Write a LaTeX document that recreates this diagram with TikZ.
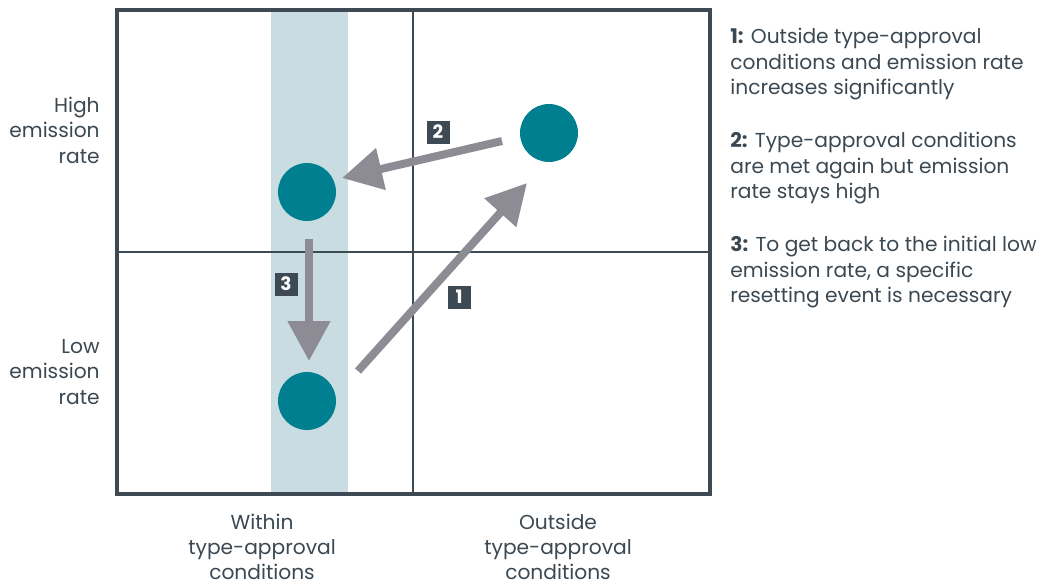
\documentclass[tikz,border=0pt]{standalone}
\usepackage{fontspec}
\setmainfont{Poppins}
\usetikzlibrary{arrows.meta, positioning}
\definecolor{framecol}{HTML}{3D4A54}
\definecolor{textcol}{HTML}{3B4852}
\definecolor{bandcol}{HTML}{C8DCE2}
\definecolor{statecol}{HTML}{007F91}
\definecolor{arrowcol}{HTML}{8D8C94}
\tikzset{
    state/.style={circle, fill=statecol, minimum size=1.16cm, inner sep=0pt},
    arrow/.style={draw=arrowcol, line width=0.16cm, -{Triangle[length=0.8cm, width=0.82cm]}},
    tag/.style={rectangle, fill=framecol, text=white, minimum size=0.46cm, inner sep=0pt, font=\bfseries\fontsize{10.5}{12}\selectfont},
    ylabel/.style={align=right, anchor=east, text=textcol, inner sep=0pt, font=\fontsize{11.5}{14.5}\selectfont},
    xlabel/.style={align=center, anchor=north, text=textcol, inner sep=0pt, font=\fontsize{11.5}{14.2}\selectfont},
    note/.style={align=left, anchor=north west, text=textcol, inner sep=0pt, font=\fontsize{11.5}{14.5}\selectfont}
}

\begin{document}
\begin{tikzpicture}[x=0.02cm, y=-0.02cm]
    \useasboundingbox (0,0) rectangle (1058,586);

    % Frame and quadrants
    \fill[bandcol] (271,10) rectangle (348,494);
    \draw[framecol, line width=0.8pt] (413,10) -- (413,494);
    \draw[framecol, line width=0.8pt] (117,252) -- (710,252);
    \draw[framecol, line width=1.8pt] (117,10) rectangle (710,494);

    % States
    \node (high) [state] at (307,192) {};
    \node (out) [state] at (549,133) {};
    \node (low) [state] at (307,401) {};

    % Arrow ends
    \coordinate (a1s) at (358,371);
    \coordinate (a1e) at (527,183);
    \coordinate (a2s) at (502,141);
    \coordinate (a2e) at (342,178);
    \coordinate (a3s) at (309,239);
    \coordinate (a3e) at (309,361);

    \draw [arrow] (a1s) -- (a1e);
    \draw [arrow] (a2s) -- (a2e);
    \draw [arrow] (a3s) -- (a3e);

    % Step tags
    \node (t1) [tag] at (459,297) {1};
    \node (t2) [tag] at (438,132) {2};
    \node (t3) [tag] at (286,284) {3};

    % Axis labels
    \node (hi) [ylabel] at (100,130) {High\\emission\\rate};
    \node (lo) [ylabel] at (100,372) {Low\\emission\\rate};
    \node (within) [xlabel] at (262,514) {Within\\type-approval\\conditions};
    \node (outside) [xlabel] at (558,514) {Outside\\type-approval\\conditions};

    % Notes
    \node (n1) [note] at (730,28) {\textbf{1:} Outside type-approval\\conditions and emission rate\\increases significantly};
    \node (n2) [note] at (730,132) {\textbf{2:} Type-approval conditions\\are met again but emission\\rate stays high};
    \node (n3) [note] at (730,236) {\textbf{3:} To get back to the initial low\\emission rate, a specific\\resetting event is necessary};

\end{tikzpicture}
\end{document}
